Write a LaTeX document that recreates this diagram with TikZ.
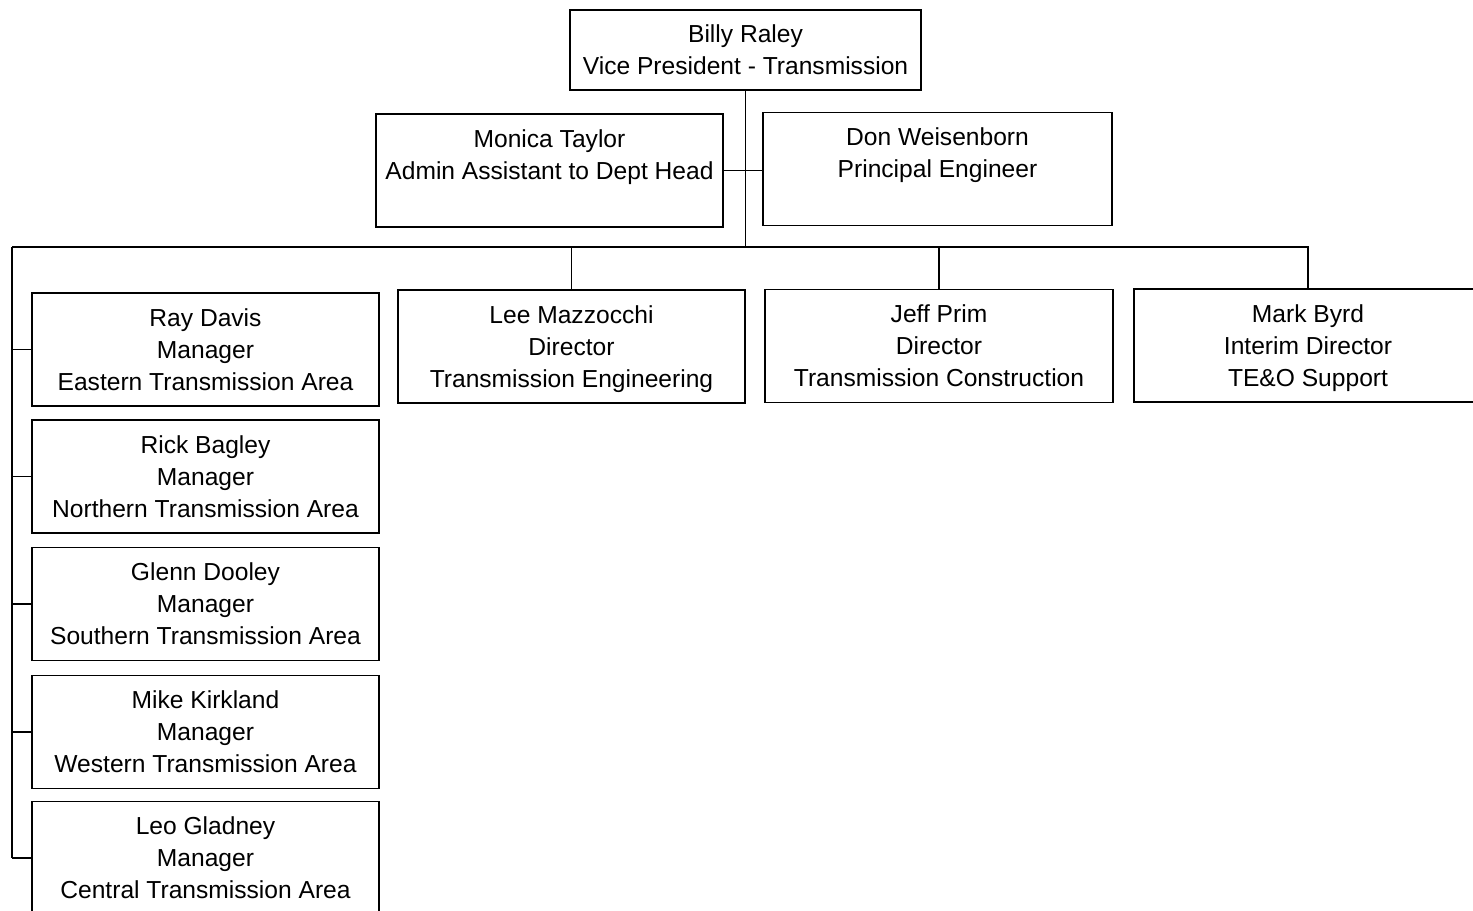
\documentclass[tikz,border=0pt]{standalone}
\usepackage{fontspec}
\setmainfont{Liberation Sans}
\usetikzlibrary{positioning,calc}

\begin{document}
\begin{tikzpicture}[
    x=0.02cm, y=-0.02cm,
    post/.style={draw, line width=1pt, align=center, inner sep=0pt, text depth=0pt,
      minimum width=6.94cm, minimum height=2.26cm,
      font=\fontsize{14}{18.2}\selectfont},
    link/.style={draw, line width=0.9pt},
]
\useasboundingbox (0,0) rectangle (1473,911);

% head and staff
\node[post, minimum width=7.02cm, minimum height=1.6cm] (vp) at (745.5,50)
  {Billy Raley\\Vice President - Transmission};
\node[post] (monica) at (549.5,170.5) {Monica Taylor\\Admin Assistant to Dept Head\\~};
\node[post, minimum width=6.98cm] (don) at (937.5,169) {Don Weisenborn\\Principal Engineer\\~};

% directors
\node[post] (lee) at (571.5,346.5) {Lee Mazzocchi\\Director\\Transmission Engineering};
\node[post, minimum width=6.96cm] (jeff) at (939,346) {Jeff Prim\\Director\\Transmission Construction};
\node[post, minimum width=6.96cm] (mark) at (1308,345.5) {Mark Byrd\\Interim Director\\TE\&O Support};

% area managers
\foreach \nm/\y/\who/\area in {ray/349.5/Ray Davis/Eastern, rick/476.5/Rick Bagley/Northern,
    glenn/604/Glenn Dooley/Southern, mike/732/Mike Kirkland/Western, leo/858/Leo Gladney/Central} {
  \node[post] (\nm) at (205.5,\y) {\who\\Manager\\\area\ Transmission Area};
}

% connectors
\coordinate (spine) at (12,247);
\path[link] (vp.south) -- (vp.south |- spine);
\path[link] (monica.east) -- (monica.east -| don.west);
\path[link] (spine) -- (spine -| mark.north) -- (mark.north);
\path[link] (spine -| lee.north) -- (lee.north);
\path[link] (spine -| jeff.north) -- (jeff.north);
\path[link] (spine) -- (spine |- leo.west);
\foreach \nm in {ray,rick,glenn,mike,leo} {
  \path[link] (spine |- \nm.west) -- (\nm.west);
}
\end{tikzpicture}
\end{document}
